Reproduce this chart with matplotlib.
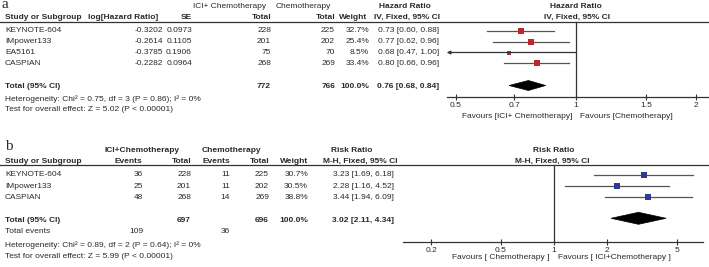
import numpy as np
import matplotlib
matplotlib.use('Agg')
import matplotlib.pyplot as plt
from matplotlib.patches import Polygon
from matplotlib.ticker import NullLocator

plt.rcParams['font.family'] = ['Liberation Sans', 'DejaVu Sans']

# panel a: hazard ratios
studies_a = ['KEYNOTE-604', 'IMpower133', 'EA5161', 'CASPIAN']
log_hr = [-0.3202, -0.2614, -0.3785, -0.2282]
se_a = [0.0973, 0.1105, 0.1906, 0.0964]
total_ici_a = [228, 201, 75, 268]
total_chemo_a = [225, 202, 70, 269]
weight_a = [32.7, 25.4, 8.5, 33.4]
hr = [0.73, 0.77, 0.68, 0.80]
hr_lo = [0.60, 0.62, 0.47, 0.66]
hr_hi = [0.88, 0.96, 1.00, 0.96]
pooled_a = (0.76, 0.68, 0.84)
sum_a = (772, 766)
het_a = 'Heterogeneity: Chi\u00b2 = 0.75, df = 3 (P = 0.86); I\u00b2 = 0%'
test_a = 'Test for overall effect: Z = 5.02 (P < 0.00001)'
ticks_a = [0.5, 0.7, 1, 1.5, 2]

# panel b: risk ratios
studies_b = ['KEYNOTE-604', 'IMpower133', 'CASPIAN']
events_ici = [36, 25, 48]
total_ici_b = [228, 201, 268]
events_chemo = [11, 11, 14]
total_chemo_b = [225, 202, 269]
weight_b = [30.7, 30.5, 38.8]
rr = [3.23, 2.28, 3.44]
rr_lo = [1.69, 1.16, 1.94]
rr_hi = [6.18, 4.52, 6.09]
pooled_b = (3.02, 2.11, 4.34)
sum_b = (697, 696)
sum_events_b = (109, 36)
het_b = 'Heterogeneity: Chi\u00b2 = 0.89, df = 2 (P = 0.64); I\u00b2 = 0%'
test_b = 'Test for overall effect: Z = 5.99 (P < 0.00001)'
ticks_b = [0.2, 0.5, 1, 2, 5]

TXT = '#2a2a2a'
LINE = '#333333'
CI_COL = '#555555'
RED = '#c0272d'
BLUE = '#2e3a8c'
W, H = 709, 267

fig = plt.figure(figsize=(W / 100, H / 100), dpi=100)
ax = fig.add_axes([0, 0, 1, 1])
ax.set_xlim(0, W)
ax.set_ylim(H, 0)
ax.axis('off')


def txt(x, y, s, ha='right', bold=False):
    ax.text(x, y, s, ha=ha, va='center', fontsize=6, color=TXT,
            fontweight='bold' if bold else 'normal')


def fmt_ci(est, lo, hi):
    return f'{est:.2f} [{lo:.2f}, {hi:.2f}]'


def forest_axes(x0, x1, lims, ticks, axis_y):
    f = fig.add_axes([x0 / W, 0, (x1 - x0) / W, 1])
    f.set_xscale('log')
    f.set_xlim(lims)
    f.set_ylim(H, 0)
    f.patch.set_alpha(0)
    for s in ['top', 'left', 'right']:
        f.spines[s].set_visible(False)
    f.spines['bottom'].set_position(('data', axis_y))
    f.spines['bottom'].set_color(LINE)
    f.spines['bottom'].set_linewidth(0.9)
    f.set_yticks([])
    f.set_xticks(ticks)
    f.set_xticklabels([f'{t:g}' for t in ticks])
    f.xaxis.set_minor_locator(NullLocator())
    f.tick_params(axis='x', direction='inout', length=4, width=0.8, pad=1.5,
                  labelsize=6, colors=LINE, labelcolor=TXT)
    return f


def draw_rows(f, ys, est, lo, hi, weights, k, color, lims):
    for y, e, l, h, w in zip(ys, est, lo, hi, weights):
        if l < lims[0]:
            f.annotate('', xy=(lims[0], y), xytext=(h, y),
                       arrowprops=dict(arrowstyle='-|>', color=LINE, lw=0.9,
                                       shrinkA=0, shrinkB=0, mutation_scale=5))
        else:
            f.plot([l, h], [y, y], color=CI_COL, lw=0.9)
        f.plot(e, y, marker='s', ms=k * np.sqrt(w), color=color, mec=color, mew=0)


def diamond(f, y, est, lo, hi, h):
    f.add_patch(Polygon([(lo, y), (est, y - h), (hi, y), (est, y + h)],
                        closed=True, fc='black', ec='black', lw=0.5))


# ---------------- panel a ----------------
ax.text(1, 8.5, 'a', fontsize=11, family='Liberation Serif', color=TXT, va='baseline')
txt(230, 6.7, 'ICI+ Chemotherapy', ha='center')
txt(303, 6.7, 'Chemotherapy', ha='center')
txt(405, 6.7, 'Hazard Ratio', ha='center', bold=True)
txt(576, 6.7, 'Hazard Ratio', ha='center', bold=True)
hy = 17.3
txt(5, hy, 'Study or Subgroup', ha='left', bold=True)
txt(158, hy, 'log[Hazard Ratio]', bold=True)
txt(192, hy, 'SE', bold=True)
txt(271.5, hy, 'Total', bold=True)
txt(335, hy, 'Total', bold=True)
txt(367, hy, 'Weight', bold=True)
txt(407, hy, 'IV, Fixed, 95% CI', ha='center', bold=True)
txt(577, hy, 'IV, Fixed, 95% CI', ha='center', bold=True)
ax.plot([0, W], [22, 22], color=LINE, lw=0.9)

ys_a = [30.7 + 10.9 * i for i in range(len(studies_a))]
for i, y in enumerate(ys_a):
    txt(5, y, studies_a[i], ha='left')
    txt(163, y, f'{log_hr[i]:.4f}')
    txt(192, y, f'{se_a[i]:.4f}')
    txt(271, y, str(total_ici_a[i]))
    txt(335, y, str(total_chemo_a[i]))
    txt(369, y, f'{weight_a[i]:.1f}%')
    txt(439, y, fmt_ci(hr[i], hr_lo[i], hr_hi[i]))

ty = 86.8
txt(5, ty, 'Total (95% CI)', ha='left', bold=True)
txt(271, ty, str(sum_a[0]), bold=True)
txt(335, ty, str(sum_a[1]), bold=True)
txt(369, ty, '100.0%', bold=True)
txt(439, ty, fmt_ci(*pooled_a), bold=True)
txt(5, 98.8, het_a, ha='left')
txt(5, 109.3, test_a, ha='left')

lims_a = (0.4748, 2.139)
fa = forest_axes(446.7, 708, lims_a, ticks_a, 96.7)
fa.plot([1, 1], [22, 96.7], color=LINE, lw=0.9)
draw_rows(fa, ys_a, hr, hr_lo, hr_hi, weight_a, 0.78, RED, lims_a)
diamond(fa, 85.5, *pooled_a, 5)
txt(573, 116.3, 'Favours [ICI+ Chemotherapy]')
txt(580, 116.3, 'Favours [Chemotherapy]', ha='left')

# ---------------- panel b ----------------
ax.text(5.5, 150, 'b', fontsize=11, family='Liberation Serif', color=TXT, va='baseline')
txt(142, 150, 'ICI+Chemotherapy', ha='center', bold=True)
txt(231, 150, 'Chemotherapy', ha='center', bold=True)
txt(352, 150, 'Risk Ratio', ha='center', bold=True)
txt(554, 150, 'Risk Ratio', ha='center', bold=True)
hy = 161.7
txt(5, hy, 'Study or Subgroup', ha='left', bold=True)
txt(142, hy, 'Events', bold=True)
txt(191, hy, 'Total', bold=True)
txt(230, hy, 'Events', bold=True)
txt(269, hy, 'Total', bold=True)
txt(308, hy, 'Weight', bold=True)
txt(360, hy, 'M-H, Fixed, 95% CI', ha='center', bold=True)
txt(552, hy, 'M-H, Fixed, 95% CI', ha='center', bold=True)
ax.plot([0, W], [165, 165], color=LINE, lw=0.9)

ys_b = [175 + 11.1 * i for i in range(len(studies_b))]
for i, y in enumerate(ys_b):
    txt(5, y, studies_b[i], ha='left')
    txt(143, y, str(events_ici[i]))
    txt(191, y, str(total_ici_b[i]))
    txt(230, y, str(events_chemo[i]))
    txt(269, y, str(total_chemo_b[i]))
    txt(308, y, f'{weight_b[i]:.1f}%')
    txt(394, y, fmt_ci(rr[i], rr_lo[i], rr_hi[i]))

ty = 220
txt(5, ty, 'Total (95% CI)', ha='left', bold=True)
txt(191, ty, str(sum_b[0]), bold=True)
txt(269, ty, str(sum_b[1]), bold=True)
txt(308, ty, '100.0%', bold=True)
txt(394, ty, fmt_ci(*pooled_b), bold=True)
txt(5, 231.7, 'Total events', ha='left')
txt(143, 231.7, str(sum_events_b[0]))
txt(230, 231.7, str(sum_events_b[1]))
txt(5, 245, het_b, ha='left')
txt(5, 256, test_b, ha='left')

lims_b = (0.1386, 7.03)
fb = forest_axes(403, 703, lims_b, ticks_b, 242.3)
fb.plot([1, 1], [165, 242.3], color=LINE, lw=0.9)
draw_rows(fb, ys_b, rr, rr_lo, rr_hi, weight_b, 0.75, BLUE, lims_b)
diamond(fb, 218.3, *pooled_b, 6)
txt(549, 257.7, 'Favours [ Chemotherapy ]')
txt(558, 257.7, 'Favours [ ICI+Chemotherapy ]', ha='left')

fig.savefig('out.png', dpi=100)
